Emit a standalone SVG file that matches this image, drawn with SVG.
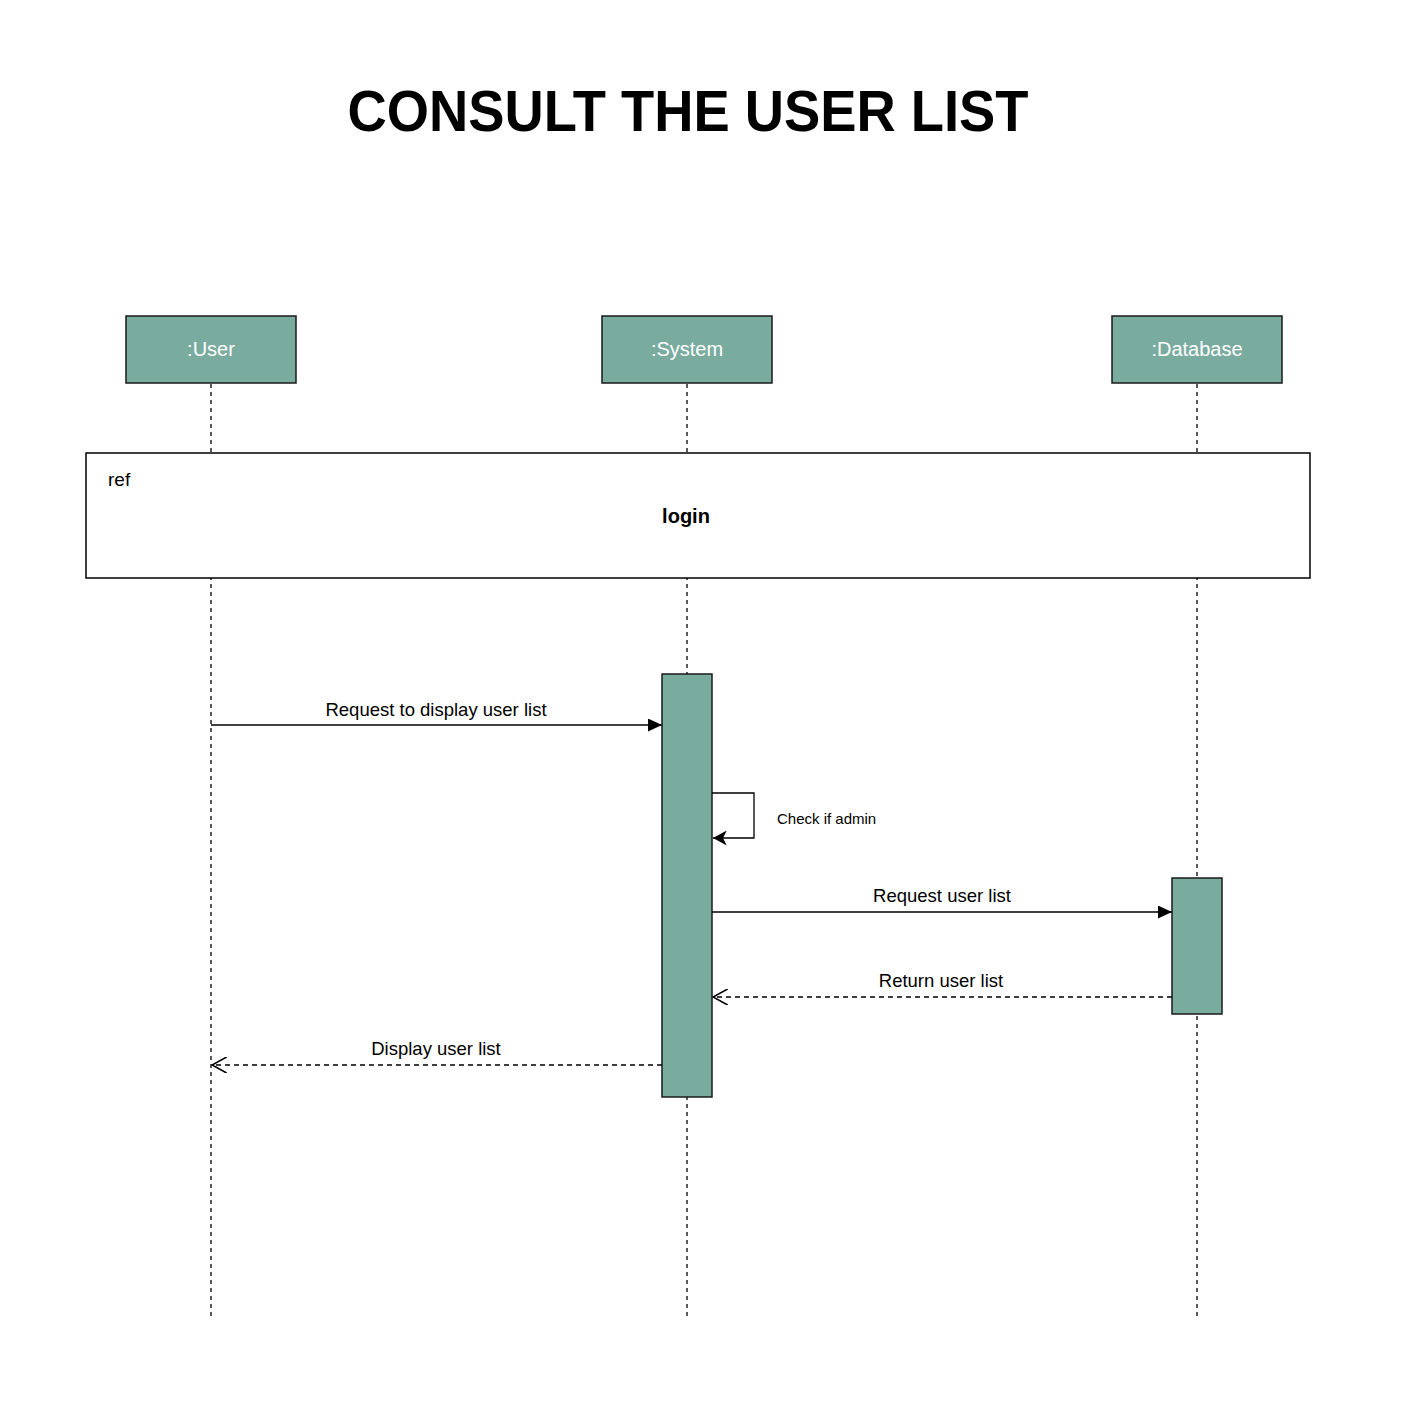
<svg xmlns="http://www.w3.org/2000/svg" width="1412" height="1410" viewBox="0 0 1412 1410">
<style>
.bg{fill:#ffffff}
.actor{fill:#79ab9f;stroke:#1a1a1a;stroke-width:1.5}
.actor-t{font-family:"Liberation Sans",Arial,sans-serif;font-size:20px;fill:#ffffff;text-anchor:middle}
.life{stroke:#000;stroke-width:1.3;stroke-dasharray:4 4;fill:none}
.act{fill:#79ab9f;stroke:#1a1a1a;stroke-width:1.5}
.msg{stroke:#000;stroke-width:1.3;fill:none}
.ret{stroke:#000;stroke-width:1.3;fill:none;stroke-dasharray:5 4}
.lbl{font-family:"Liberation Sans",Arial,sans-serif;font-size:18.5px;fill:#000;text-anchor:middle}
.small{font-family:"Liberation Sans",Arial,sans-serif;font-size:15px;fill:#000}
.frame{fill:#ffffff;stroke:#000;stroke-width:1.5}
.title{font-family:"Liberation Sans",Arial,sans-serif;font-size:58px;font-weight:bold;fill:#000;text-anchor:middle}
</style>
<defs>
<marker id="block" viewBox="0 0 10 10" refX="10" refY="5" markerWidth="14" markerHeight="13" markerUnits="userSpaceOnUse" orient="auto" preserveAspectRatio="none">
<path d="M0,0 L10,5 L0,10 Z" fill="#000"/>
</marker>
<marker id="open" viewBox="0 0 12 12" refX="11" refY="6" markerWidth="16" markerHeight="16" markerUnits="userSpaceOnUse" orient="auto">
<path d="M0,0 L11,6 L0,12" fill="none" stroke="#000" stroke-width="1.2"/>
</marker>
<marker id="classic" viewBox="0 0 12 12" refX="11" refY="6" markerWidth="15" markerHeight="15" markerUnits="userSpaceOnUse" orient="auto">
<path d="M0,0 L11,6 L0,12 L3,6 Z" fill="#000"/>
</marker>
</defs>
<rect class="bg" x="0" y="0" width="1412" height="1410"/>
<text class="title" x="688" y="131" textLength="681" lengthAdjust="spacingAndGlyphs">CONSULT THE USER LIST</text>

<g id="lifelines">
<line class="life" x1="211" y1="384" x2="211" y2="1316"/>
<line class="life" x1="687" y1="384" x2="687" y2="1316"/>
<line class="life" x1="1197" y1="384" x2="1197" y2="1316"/>
</g>

<g id="actor-user">
<rect class="actor" x="126" y="316" width="170" height="67"/>
<text class="actor-t" x="211" y="356">:User</text>
</g>
<g id="actor-system">
<rect class="actor" x="602" y="316" width="170" height="67"/>
<text class="actor-t" x="687" y="356">:System</text>
</g>
<g id="actor-database">
<rect class="actor" x="1112" y="316" width="170" height="67"/>
<text class="actor-t" x="1197" y="356">:Database</text>
</g>

<g id="ref-login">
<rect class="frame" x="86" y="453" width="1224" height="125"/>
<text class="small" x="108" y="486" style="font-size:19px">ref</text>
<text class="lbl" x="686" y="523" style="font-size:20px;font-weight:bold">login</text>
</g>

<g id="activation-system">
<rect class="act" x="662" y="674" width="50" height="423"/>
</g>
<g id="activation-database">
<rect class="act" x="1172" y="878" width="50" height="136"/>
</g>

<g id="connectors">
<line class="msg" x1="211" y1="725" x2="662" y2="725" marker-end="url(#block)"/>
<text class="lbl" x="436" y="716">Request to display user list</text>

<path class="msg" d="M712,793 L754,793 L754,838 L713,838" marker-end="url(#classic)"/>
<text class="small" x="777" y="824">Check if admin</text>

<line class="msg" x1="712" y1="912" x2="1172" y2="912" marker-end="url(#block)"/>
<text class="lbl" x="942" y="902">Request user list</text>

<line class="ret" x1="1172" y1="997" x2="713" y2="997" marker-end="url(#open)"/>
<text class="lbl" x="941" y="987">Return user list</text>

<line class="ret" x1="662" y1="1065" x2="212" y2="1065" marker-end="url(#open)"/>
<text class="lbl" x="436" y="1055">Display user list</text>
</g>
</svg>
